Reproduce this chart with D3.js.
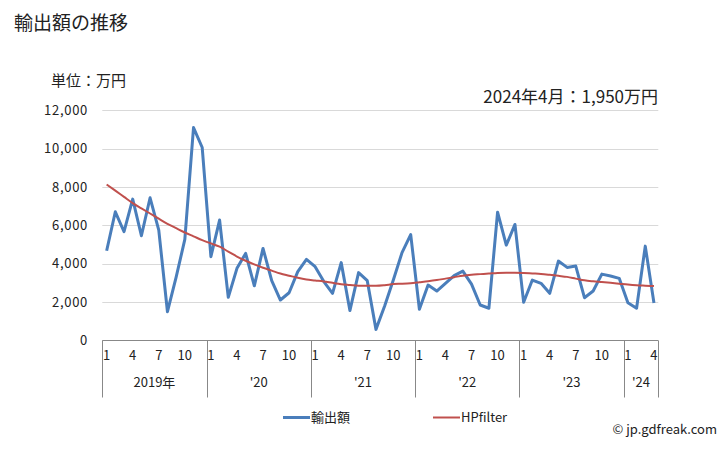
<!DOCTYPE html>
<html><head><meta charset="utf-8">
<script src="https://cdn.jsdelivr.net/npm/d3@7"></script>
<style>body{margin:0;background:#fff;} svg{display:block;font-family:"Noto Sans CJK JP","Noto Sans",sans-serif;}</style>
</head><body>
<svg id="c" width="728" height="450"></svg>
<script>
const years = ["2019年","'20","'21","'22","'23","'24"];
const monthTicks = [1,4,7,10];
const exports_ = [4680,6710,5670,7370,5460,7440,5750,1500,3300,5270,11100,10060,
  4370,6280,2250,3760,4540,2850,4800,3120,2110,2490,3590,4230,
  3850,3070,2460,4060,1560,3540,3120,580,1800,3150,4580,5520,
  1630,2890,2580,2980,3380,3620,2940,1850,1680,6690,4970,6050,
  1990,3150,2980,2460,4140,3810,3880,2230,2580,3460,3360,3240,
  1970,1680,4920,1950];
const hpfilter = [8135,7811,7488,7165,6890,6620,6350,6083,5854,5630,5432,5230,
  5060,4890,4635,4375,4156,3966,3790,3641,3493,3380,3267,3180,
  3130,3080,3005,2937,2898,2860,2854,2854,2884,2939,2960,2990,
  3039,3089,3150,3226,3302,3379,3429,3460,3491,3523,3531,3531,
  3524,3496,3468,3422,3370,3317,3226,3136,3085,3046,3007,2961,
  2915,2880,2858,2838];
const yTicks = [0,2000,4000,6000,8000,10000,12000];

const svg = d3.select("#c");
const n = exports_.length;
const x = d3.scaleBand().domain(d3.range(n)).range([102.3, 658.3]);
const y = d3.scaleLinear().domain([0,12000]).range([340.5,110.3]);
const cx = i => x(i) + x.bandwidth()/2;

// title
svg.append("text").attr("x",14).attr("y",30).attr("font-size",19).attr("fill","#222").text("輸出額の推移");
svg.append("text").attr("x",51).attr("y",86).attr("font-size",15).attr("fill","#222").text("単位：万円");
svg.append("text").attr("x",658).attr("y",103).attr("font-size",17).attr("text-anchor","end").attr("fill","#222").text("2024年4月：1,950万円");

// grid
svg.append("g").selectAll("line").data(yTicks.filter(d=>d>0)).join("line")
  .attr("x1",102.3).attr("x2",658.3).attr("y1",d=>Math.round(y(d))+0.5).attr("y2",d=>Math.round(y(d))+0.5)
  .attr("stroke","#d9d9d9").attr("stroke-width",1);
// y labels
svg.append("g").selectAll("text").data(yTicks).join("text")
  .attr("x",88).attr("y",d=>y(d)+4.5).attr("text-anchor","end").attr("font-size",13).attr("letter-spacing",0.7).attr("fill","#222")
  .text(d=>d3.format(",")(d));

// x axis
svg.append("line").attr("x1",102.3).attr("x2",658.3).attr("y1",340.5).attr("y2",340.5).attr("stroke","#888");
const bounds = [0,12,24,36,48,60,n];
svg.append("g").selectAll("line").data(bounds).join("line")
  .attr("x1",d=>Math.round(d===n? x(n-1)+x.bandwidth() : x(d))+0.5)
  .attr("x2",d=>Math.round(d===n? x(n-1)+x.bandwidth() : x(d))+0.5)
  .attr("y1",340.5).attr("y2",397.5).attr("stroke","#888");
const mlabels = d3.range(n).filter(i => monthTicks.includes(i%12+1));
svg.append("g").selectAll("text").data(mlabels).join("text")
  .attr("x",i=>cx(i)).attr("y",360).attr("text-anchor","middle").attr("font-size",13).attr("fill","#222")
  .text(i=>i%12+1);
svg.append("g").selectAll("text").data(years).join("text")
  .attr("x",(d,k)=>{const a=x(bounds[k]); const b=bounds[k+1]===n? x(n-1)+x.bandwidth(): x(bounds[k+1]); return (a+b)/2;})
  .attr("y",387).attr("text-anchor","middle").attr("font-size",13).attr("fill","#222").text(d=>d);

// lines
const line = d3.line().x((d,i)=>cx(i)).y(d=>y(d));
svg.append("path").datum(exports_).attr("d",line).attr("fill","none").attr("stroke","#4a7ebb").attr("stroke-width",3).attr("stroke-linejoin","round");
svg.append("path").datum(hpfilter).attr("d",line.curve(d3.curveMonotoneX)).attr("fill","none").attr("stroke","#c0504d").attr("stroke-width",2);

// legend
svg.append("line").attr("x1",283).attr("x2",310).attr("y1",417.5).attr("y2",417.5).attr("stroke","#4a7ebb").attr("stroke-width",3);
svg.append("text").attr("x",311).attr("y",422).attr("font-size",13).attr("fill","#222").text("輸出額");
svg.append("line").attr("x1",433).attr("x2",460).attr("y1",417.5).attr("y2",417.5).attr("stroke","#c0504d").attr("stroke-width",2);
svg.append("text").attr("x",461).attr("y",422).attr("font-size",13).attr("fill","#222").text("HPfilter");
svg.append("text").attr("x",717).attr("y",434).attr("text-anchor","end").attr("font-size",13).attr("fill","#222").text("© jp.gdfreak.com");
</script>
</body></html>
